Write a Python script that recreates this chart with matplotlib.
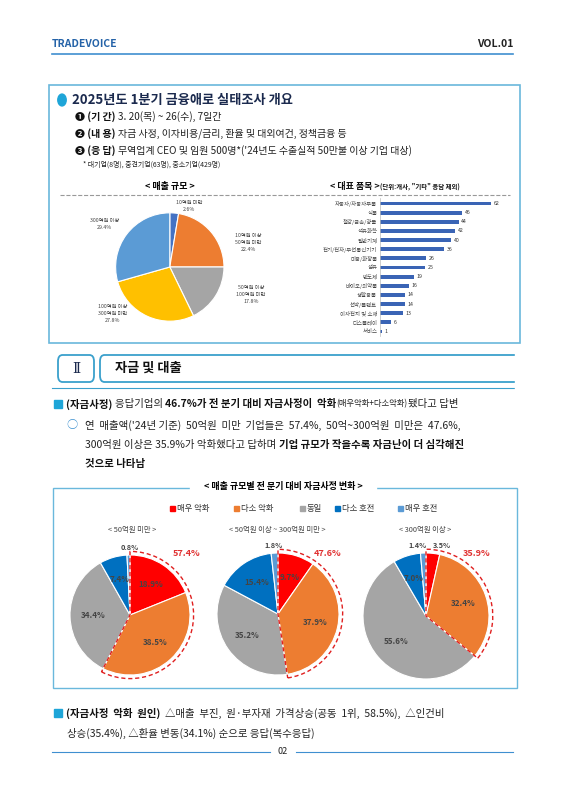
import matplotlib
matplotlib.use("Agg")
import matplotlib.pyplot as plt
from matplotlib.patches import Rectangle, Wedge, FancyBboxPatch, Circle
import numpy as np

plt.rcParams['font.family'] = ['Noto Sans CJK KR', 'DejaVu Sans']

size_labels = ["10억원 미만", "10억원 이상\n50억원 미만", "50억원 이상\n100억원 미만", "100억원 이상\n300억원 미만", "300억원 이상"]
size_values = [2.6, 22.4, 17.8, 27.8, 29.4]
size_colors = ["#4472c4", "#ed7d31", "#a5a5a5", "#ffc000", "#5b9bd5"]

item_labels = ["자동차/자동차부품", "식품", "철강/금속/광물", "석유화학", "일반기계", "전기/전자/무선통신기기",
               "미용/화장품", "섬유", "반도체", "바이오/의약품", "생활용품", "선박/플랜트", "이차전지 및 소재", "디스플레이", "서비스"]
item_values = [62, 46, 44, 42, 40, 36, 26, 25, 19, 16, 14, 14, 13, 6, 1]

cond_labels = ["매우 악화", "다소 악화", "동일", "다소 호전", "매우 호전"]
cond_colors = ["#ff0000", "#ed7d31", "#a5a5a5", "#0070c0", "#5b9bd5"]
group_titles = ["< 50억원 미만 >", "< 50억원 이상 ~ 300억원 미만 >", "< 300억원 이상 >"]
group_values = [[18.9, 38.5, 34.4, 7.4, 0.8],
                [9.7, 37.9, 35.2, 15.4, 1.8],
                [3.5, 32.4, 55.6, 7.0, 1.4]]
group_worse = ["57.4%", "47.6%", "35.9%"]

W, H = 566, 800
fig = plt.figure(figsize=(W/100, H/100), dpi=100)
fig.patch.set_facecolor("white")
renderer = fig.canvas.get_renderer()

def fx(x): return x / W
def fy(y): return 1 - y / H
def T(x, y, s, **kw):
    kw.setdefault("va", "center")
    return fig.text(fx(x), fy(y), s, **kw)
def runs(x, y, parts, size=7.5):
    for s, bold, col, fs in parts:
        t = T(x, y, s, fontsize=fs or size, fontweight="bold" if bold else "normal", color=col)
        x += t.get_window_extent(renderer).width
def hline(x0, x1, y, **kw):
    fig.add_artist(plt.Line2D([fx(x0), fx(x1)], [fy(y), fy(y)], **kw))
def rect(x0, y0, x1, y1, **kw):
    fig.add_artist(Rectangle((fx(x0), fy(y1)), fx(x1-x0), (y1-y0)/H, transform=fig.transFigure, **kw))
def ax_px(x0, y0, x1, y1):
    return fig.add_axes([fx(x0), fy(y1), fx(x1-x0), (y1-y0)/H])

navy = "#1b2a4e"
T(52, 44, "TRADEVOICE", fontsize=7.5, fontweight="bold", color="#2563a8")
T(513, 44, "VOL.01", fontsize=7.5, fontweight="bold", color="#222222", ha="right")
hline(52, 513, 54, color="#3f8fd0", lw=1.2)

rect(49, 85, 520, 343, fill=False, edgecolor="#6ab8dc", lw=1.2)
fig.add_artist(Circle((fx(62), fy(100)), 4.2/W, transform=fig.transFigure, color="#1ea5d8"))
T(72, 100, "2025년도 1분기 금융애로 실태조사 개요", fontsize=9.5, fontweight="bold", color=navy)
runs(75, 117, [("❶ (기 간) ", True, "#111", None), ("3. 20(목) ~ 26(수), 7일간", False, "#222", None)], size=7.2)
runs(75, 134, [("❷ (내 용) ", True, "#111", None), ("자금 사정, 이자비용/금리, 환율 및 대외여건, 정책금융 등", False, "#222", None)], size=7.2)
runs(75, 151, [("❸ (응 답) ", True, "#111", None), ("무역업계 CEO 및 임원 500명*('24년도 수출실적 50만불 이상 기업 대상)", False, "#222", None)], size=7.2)
T(83, 165, "* 대기업(8명), 중견기업(63명), 중소기업(429명)", fontsize=5, color="#222")

T(170, 186, "< 매출 규모 >", fontsize=6.5, fontweight="bold", ha="center")
runs(330, 186, [("< 대표 품목 >", True, "#111", 6.5), ("(단위:개사, \"기타\" 응답 제외)", True, "#111", 4.6)])
hline(60, 510, 195, color="#999", lw=0.8, ls="--")

ax1 = ax_px(75, 198, 270, 336)
ax1.pie(size_values, colors=size_colors, startangle=90, counterclock=False,
        wedgeprops=dict(edgecolor="white", linewidth=0.8), radius=1.0)
ax1.set_aspect("equal")
lbl_pos = [(0.35, 1.12), (1.45, 0.45), (1.5, -0.5), (-1.05, -0.85), (-1.2, 0.8)]
for (x, y), l, v in zip(lbl_pos, size_labels, size_values):
    ax1.text(x, y, f"{l}\n{v}%", fontsize=3.8, color="#444", ha="center", va="center", linespacing=1.5)
ax1.set_xlim(-1.75, 1.85); ax1.set_ylim(-1.22, 1.22)
ax1.axis("off")

ax2 = ax_px(380, 198, 505, 336)
ypos = np.arange(len(item_values))
ax2.barh(ypos, item_values, color="#3a64b5", height=0.42)
ax2.set_ylim(len(item_values) - 0.5, -0.6)
ax2.set_xlim(0, 70)
ax2.set_yticks(ypos)
ax2.set_yticklabels(item_labels, fontsize=3.9, color="#444")
ax2.tick_params(length=0, pad=2)
ax2.set_xticks([])
for s in ax2.spines.values(): s.set_visible(False)
ax2.spines["left"].set_visible(True); ax2.spines["left"].set_color("#bbb"); ax2.spines["left"].set_linewidth(0.5)
for i, v in enumerate(item_values):
    ax2.text(v + 1.5, i, str(v), fontsize=3.8, va="center", color="#333")

fig.add_artist(FancyBboxPatch((fx(58), fy(382)), fx(36), 27/H, boxstyle="round,pad=0,rounding_size=0.008",
                              transform=fig.transFigure, fill=False, edgecolor="#3aa0cc", lw=1.3))
T(76, 369, "Ⅱ", fontsize=10, color=navy, ha="center", family="DejaVu Serif")
fig.add_artist(FancyBboxPatch((fx(100), fy(382)), fx(430), 27/H, boxstyle="round,pad=0,rounding_size=0.008",
                              transform=fig.transFigure, fill=False, edgecolor="#3aa0cc", lw=1.3))
rect(515, 350, 566, 390, color="white", zorder=5)
T(115, 368, "자금 및 대출", fontsize=9.5, fontweight="bold", color="#111")
hline(52, 520, 388, color="#3aa0cc", lw=0.8)

rect(54, 400, 62, 408, color="#1ea5d8")
runs(66, 404, [("(자금사정) ", True, "#111", None), ("응답기업의 ", False, "#222", None),
               ("46.7%가 전 분기 대비 자금사정이  악화", True, "#111", None),
               ("(매우악화+다소악화)", False, "#222", 6), ("됐다고 답변", False, "#222", None)])
T(72, 425, "○", fontsize=8, color="#3a8fcf", ha="center")
T(85, 425, "연  매출액('24년 기준)  50억원  미만  기업들은  57.4%,  50억~300억원  미만은  47.6%,", fontsize=7.5, color="#222")
runs(85, 445, [("300억원 이상은 35.9%가 악화했다고 답하며 ", False, "#222", None),
               ("기업 규모가 작을수록 자금난이 더 심각해진", True, "#111", None)])
T(85, 464, "것으로 나타남", fontsize=7.5, fontweight="bold", color="#111")

rect(53, 488, 517, 688, fill=False, edgecolor="#6ab8dc", lw=1.0)
rect(190, 480, 376, 495, color="white", zorder=3)
T(283, 487, "< 매출 규모별 전 분기 대비 자금사정 변화 >", fontsize=6.5, fontweight="bold", ha="center", zorder=4)

lx = [176, 240, 306, 341, 404]
for x, l, c in zip(lx, cond_labels, cond_colors):
    rect(x - 6, 506, x - 1, 511, color=c)
    T(x + 1, 509, l, fontsize=6, color="#333")

centers = [(130, 615, 60), (278, 614, 61), (426, 616, 63)]
sub_x = [132, 277, 425]
worse_pos = [(187, 553), (328, 553), (477, 553)]
for k, ((cx, cy, r), vals) in enumerate(zip(centers, group_values)):
    T(sub_x[k], 530, group_titles[k], fontsize=5.3, color="#444", ha="center")
    ax = ax_px(cx - r * 1.25, cy - r * 1.25, cx + r * 1.25, cy + r * 1.25)
    ax.pie(vals, colors=cond_colors, startangle=90, counterclock=False,
           wedgeprops=dict(edgecolor="white", linewidth=0.8), radius=1.0)
    ax.set_xlim(-1.25, 1.25); ax.set_ylim(-1.25, 1.25); ax.set_aspect("equal")
    ax.axis("off")
    worse = vals[0] + vals[1]
    ax.add_patch(Wedge((0, 0), 1.06, 90 - worse * 3.6, 90, fill=False, edgecolor="#e02020",
                       lw=1.0, ls=(0, (3, 2))))
    start = 90.0
    for v in vals:
        mid = np.deg2rad(start - v * 1.8)
        start -= v * 3.6
        if v < 5:
            continue
        d = 0.62
        ax.text(d * np.cos(mid), d * np.sin(mid), f"{v}%", fontsize=5.8, fontweight="bold",
                color="#444", ha="center", va="center")
    T(worse_pos[k][0], worse_pos[k][1], group_worse[k], fontsize=6.5, fontweight="bold", color="#e03030", ha="center")

T(130, 547, "0.8%", fontsize=5.3, fontweight="bold", color="#444", ha="center")
T(274, 546, "1.8%", fontsize=5.3, fontweight="bold", color="#444", ha="center")
T(418, 546, "1.4%", fontsize=5.3, fontweight="bold", color="#444", ha="center")
T(442, 546, "3.5%", fontsize=5.3, fontweight="bold", color="#444", ha="center")

rect(54, 709, 62, 717, color="#1ea5d8")
runs(66, 713, [("(자금사정  악화  원인)  ", True, "#111", None),
               ("△매출  부진,  원·부자재  가격상승(공동  1위,  58.5%),  △인건비", False, "#222", None)])
T(67, 733, "상승(35.4%), △환율 변동(34.1%) 순으로 응답(복수응답)", fontsize=7.5, color="#222")

hline(52, 270, 752, color="#3f8fd0", lw=0.8)
hline(296, 513, 752, color="#3f8fd0", lw=0.8)
T(283, 752, "02", fontsize=6.5, color="#222", ha="center")

fig.savefig("out.png", dpi=100)
